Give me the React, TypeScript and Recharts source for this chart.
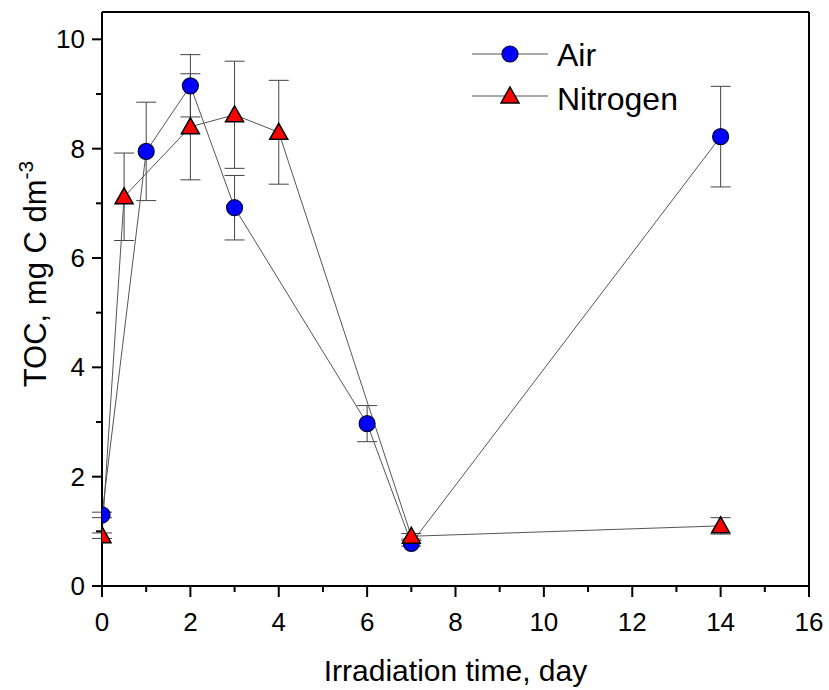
import { ComposedChart, Line, XAxis, YAxis, ErrorBar, ReferenceLine } from 'recharts';

// TOC measured under air and nitrogen, mean ± error
const airDays = [0, 1, 2, 3, 6, 7, 14];
const airToc = [1.3, 7.95, 9.15, 6.92, 2.97, 0.78, 8.22];
const airErr = [0.05, 0.9, 0.57, 0.59, 0.33, 0.05, 0.92];

const nitrogenDays = [0, 0.5, 2, 3, 4, 7, 14];
const nitrogenToc = [0.92, 7.12, 8.4, 8.62, 8.3, 0.91, 1.1];
const nitrogenErr = [0.05, 0.8, 0.97, 0.98, 0.95, 0.05, 0.15];

const xTicks = [0, 1, 2, 3, 4, 5, 6, 7, 8, 9, 10, 11, 12, 13, 14, 15, 16];
const yTicks = [0, 1, 2, 3, 4, 5, 6, 7, 8, 9, 10];

const airData = airDays.map((day, i) => ({ day, toc: airToc[i], err: airErr[i] }));
const nitrogenData = nitrogenDays.map((day, i) => ({ day, toc: nitrogenToc[i], err: nitrogenErr[i] }));

const FONT = '"Liberation Sans", Arial, sans-serif';
const LINE = '#555';

// chart layout
const W = 829;
const H = 690;
const MARGIN = { top: 12, right: 20, bottom: 0, left: 0 };
const Y_AXIS_W = 102;
const X_AXIS_H = 104;
const PLOT = {
  x: MARGIN.left + Y_AXIS_W,
  y: MARGIN.top,
  w: W - MARGIN.left - MARGIN.right - Y_AXIS_W,
  h: H - MARGIN.top - MARGIN.bottom - X_AXIS_H,
};

// markers are cut at the plot frame: a nested svg clips its content
function Clipped({ clip, children }: { clip?: boolean; children: any }) {
  if (!clip) return <g>{children}</g>;
  return (
    <svg
      x={PLOT.x}
      y={PLOT.y}
      width={PLOT.w}
      height={PLOT.h}
      viewBox={`${PLOT.x} ${PLOT.y} ${PLOT.w} ${PLOT.h}`}
      overflow="hidden"
    >
      {children}
    </svg>
  );
}

function CircleMark({ cx, cy, clip }: { cx: number; cy: number; clip?: boolean }) {
  return (
    <Clipped clip={clip}>
      <circle cx={cx} cy={cy} r={8} fill="#0000ff" stroke="#000033" strokeWidth={1.2} />
    </Clipped>
  );
}

function TriangleMark({ cx, cy, clip }: { cx: number; cy: number; clip?: boolean }) {
  const pts = `${cx},${cy - 9} ${cx + 9},${cy + 7} ${cx - 9},${cy + 7}`;
  return (
    <Clipped clip={clip}>
      <polygon points={pts} fill="#ff0000" stroke="#000" strokeWidth={1.5} />
    </Clipped>
  );
}

function XTick({ x, y, payload }: any) {
  const major = payload.value % 2 === 0;
  return (
    <g>
      <line x1={x} y1={y} x2={x} y2={y + (major ? 11 : 6)} stroke="#000" strokeWidth={2} />
      {major && (
        <text x={x} y={y + 45} textAnchor="middle" fontSize={26} fontFamily={FONT} fill="#000">
          {payload.value}
        </text>
      )}
    </g>
  );
}

function YTick({ x, y, payload }: any) {
  const major = payload.value % 2 === 0;
  return (
    <g>
      <line x1={x} y1={y} x2={x - (major ? 10 : 6)} y2={y} stroke="#000" strokeWidth={2} />
      {major && (
        <text x={x - 17} y={y + 9} textAnchor="end" fontSize={26} fontFamily={FONT} fill="#000">
          {payload.value}
        </text>
      )}
    </g>
  );
}

function Legend() {
  return (
    <svg width={280} height={90} style={{ position: 'absolute', left: 460, top: 28 }}>
      <line x1={12} y1={26} x2={88} y2={26} stroke={LINE} strokeWidth={1} />
      <CircleMark cx={50} cy={26} />
      <text x={97} y={38} fontSize={32} fontFamily={FONT} fill="#000">Air</text>
      <line x1={12} y1={68} x2={88} y2={68} stroke={LINE} strokeWidth={1} />
      <TriangleMark cx={50} cy={68} />
      <text x={97} y={82} fontSize={32} fontFamily={FONT} fill="#000">Nitrogen</text>
    </svg>
  );
}

export default function App() {
  return (
    <div style={{ position: 'relative', width: W, height: H, background: '#fff' }}>
      <style>{'body{margin:0}'}</style>
      <ComposedChart width={W} height={H} margin={MARGIN}>
        <XAxis
          dataKey="day"
          type="number"
          domain={[0, 16]}
          ticks={xTicks}
          interval={0}
          allowDataOverflow
          height={X_AXIS_H}
          tickSize={0}
          tickMargin={0}
          tickLine={false}
          tick={<XTick />}
          axisLine={{ stroke: '#000', strokeWidth: 2 }}
          label={{
            content: () => (
              <text x={PLOT.x + PLOT.w / 2} y={681} textAnchor="middle" fontSize={30} fontFamily={FONT} fill="#000">
                Irradiation time, day
              </text>
            ),
          }}
        />
        <YAxis
          type="number"
          domain={[0, 10.5]}
          ticks={yTicks}
          interval={0}
          allowDataOverflow
          width={Y_AXIS_W}
          tickSize={0}
          tickMargin={0}
          tickLine={false}
          tick={<YTick />}
          axisLine={{ stroke: '#000', strokeWidth: 2 }}
          label={{
            content: () => (
              <text
                transform="translate(46,274) rotate(-90)"
                textAnchor="middle"
                fontSize={31}
                fontFamily={FONT}
                fill="#000"
              >
                TOC, mg C dm
                <tspan fontSize={21} dy={-13}>-3</tspan>
              </text>
            ),
          }}
        />
        <ReferenceLine y={10.5} stroke="#000" strokeWidth={2} />
        <ReferenceLine x={16} stroke="#000" strokeWidth={2} />
        <Line
          data={airData}
          dataKey="toc"
          stroke={LINE}
          strokeWidth={1}
          isAnimationActive={false}
          dot={(p: any) => <CircleMark key={`a${p.index}`} cx={p.cx} cy={p.cy} clip />}
          activeDot={false}
        >
          <ErrorBar dataKey="err" direction="y" width={10} stroke="#444" strokeWidth={1} />
        </Line>
        <Line
          data={nitrogenData}
          dataKey="toc"
          stroke={LINE}
          strokeWidth={1}
          isAnimationActive={false}
          dot={(p: any) => <TriangleMark key={`n${p.index}`} cx={p.cx} cy={p.cy} clip />}
          activeDot={false}
        >
          <ErrorBar dataKey="err" direction="y" width={10} stroke="#444" strokeWidth={1} />
        </Line>
      </ComposedChart>
      <Legend />
    </div>
  );
}
